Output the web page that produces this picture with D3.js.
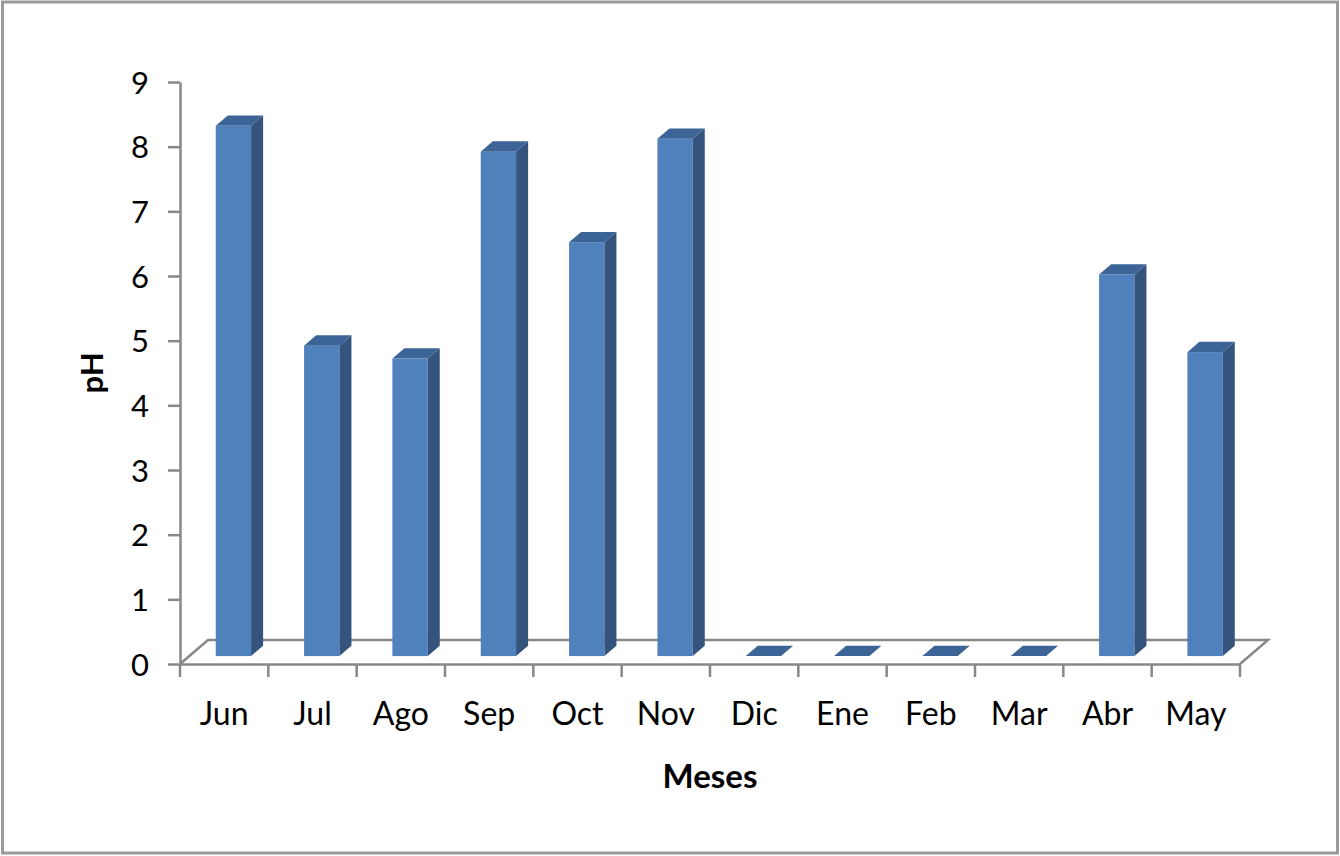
<!DOCTYPE html>
<html><head><meta charset="utf-8">
<script src="https://cdn.jsdelivr.net/npm/d3@7"></script>
<style>
html,body{margin:0;padding:0;background:#fff;}
svg text{font-family:Lato,"Open Sans",sans-serif;fill:#000;}
</style></head>
<body><svg id="c" width="1340" height="856"></svg>
<script>
const months = ["Jun","Jul","Ago","Sep","Oct","Nov","Dic","Ene","Feb","Mar","Abr","May"];
const phValues = [8.2,4.8,4.6,7.8,6.4,8.0,0,0,0,0,5.9,4.7];
const yTicks = [0,1,2,3,4,5,6,7,8,9];
const xTitle = "Meses";
const yTitle = "pH";

const svg = d3.select("#c");
svg.append("rect").attr("x",2.5).attr("y",2).attr("width",1335).attr("height",851)
  .attr("fill","#fff").attr("stroke","#9a9a9a").attr("stroke-width",3);

const left=180, right=1240, y0=664, y9=82;
const DX=28, DY=24;           // floor depth
const zF=0.33, zB=0.76;       // bar depth fractions
const x = d3.scaleBand().domain(months).range([left,right]).paddingInner(0.6).paddingOuter(0.3);
const xb = d3.scaleBand().domain(months).range([left,right]);
const y = d3.scaleLinear().domain([0,9]).range([y0,y9]);
const axisCol="#888";

// floor
const g = svg.append("g");
g.append("path").attr("d",`M${left},${y0}L${left+DX},${y0-DY}L${right+DX},${y0-DY}L${right},${y0}`)
  .attr("fill","none").attr("stroke",axisCol).attr("stroke-width",2.5);

// bars
const cFront="#4F81BD", cSide="#34547d", cTop="#3d6496";
months.forEach((m,i)=>{
  const v=phValues[i];
  const fx=x(m)+zF*DX, w=x.bandwidth();
  const fy=y(v)-zF*DY, by=y(0)-zF*DY;
  const ddx=(zB-zF)*DX, ddy=(zB-zF)*DY;
  const bg=g.append("g");
  if(v>0){
    bg.append("rect").attr("x",fx).attr("y",fy).attr("width",w).attr("height",by-fy).attr("fill",cFront);
    bg.append("path").attr("d",`M${fx+w},${fy}L${fx+w+ddx},${fy-ddy}L${fx+w+ddx},${by-ddy}L${fx+w},${by}Z`).attr("fill",cSide);
  }
  bg.append("path").attr("d",`M${fx},${fy}L${fx+ddx},${fy-ddy}L${fx+w+ddx},${fy-ddy}L${fx+w},${fy}Z`).attr("fill",cTop);
});

// y axis
const ya = svg.append("g").attr("transform",`translate(${left},0)`)
  .call(d3.axisLeft(y).tickValues(yTicks).tickSize(12).tickPadding(20).tickSizeOuter(0));
ya.select(".domain").attr("stroke",axisCol).attr("stroke-width",2.5);
ya.selectAll(".tick line").attr("stroke",axisCol).attr("stroke-width",2.5);
ya.selectAll(".tick text").attr("font-size",31).attr("font-family","Lato").attr("text-anchor","middle").attr("dx",-8).attr("dy","0.36em");

// x axis
const xa = svg.append("g").attr("transform",`translate(0,${y0})`)
  .call(d3.axisBottom(xb).tickSize(0).tickPadding(28));
xa.select(".domain").attr("stroke",axisCol).attr("stroke-width",2.5);
xa.selectAll(".tick text").attr("font-size",32).attr("font-family","Lato").attr("y",61).attr("dy",0);
const edges = months.map(m=>xb(m)).concat([right]);
xa.selectAll("line.ct").data(edges).join("line").attr("class","ct")
  .attr("x1",d=>d).attr("x2",d=>d).attr("y1",0).attr("y2",13)
  .attr("stroke",axisCol).attr("stroke-width",2.5);

// titles
svg.append("text").attr("x",710).attr("y",788).attr("text-anchor","middle")
  .attr("font-size",33).attr("font-weight","bold").text(xTitle);
svg.append("text").attr("transform","translate(103,373) rotate(-90)").attr("text-anchor","middle")
  .attr("font-size",31).attr("font-weight","bold").text(yTitle);
</script></body></html>
